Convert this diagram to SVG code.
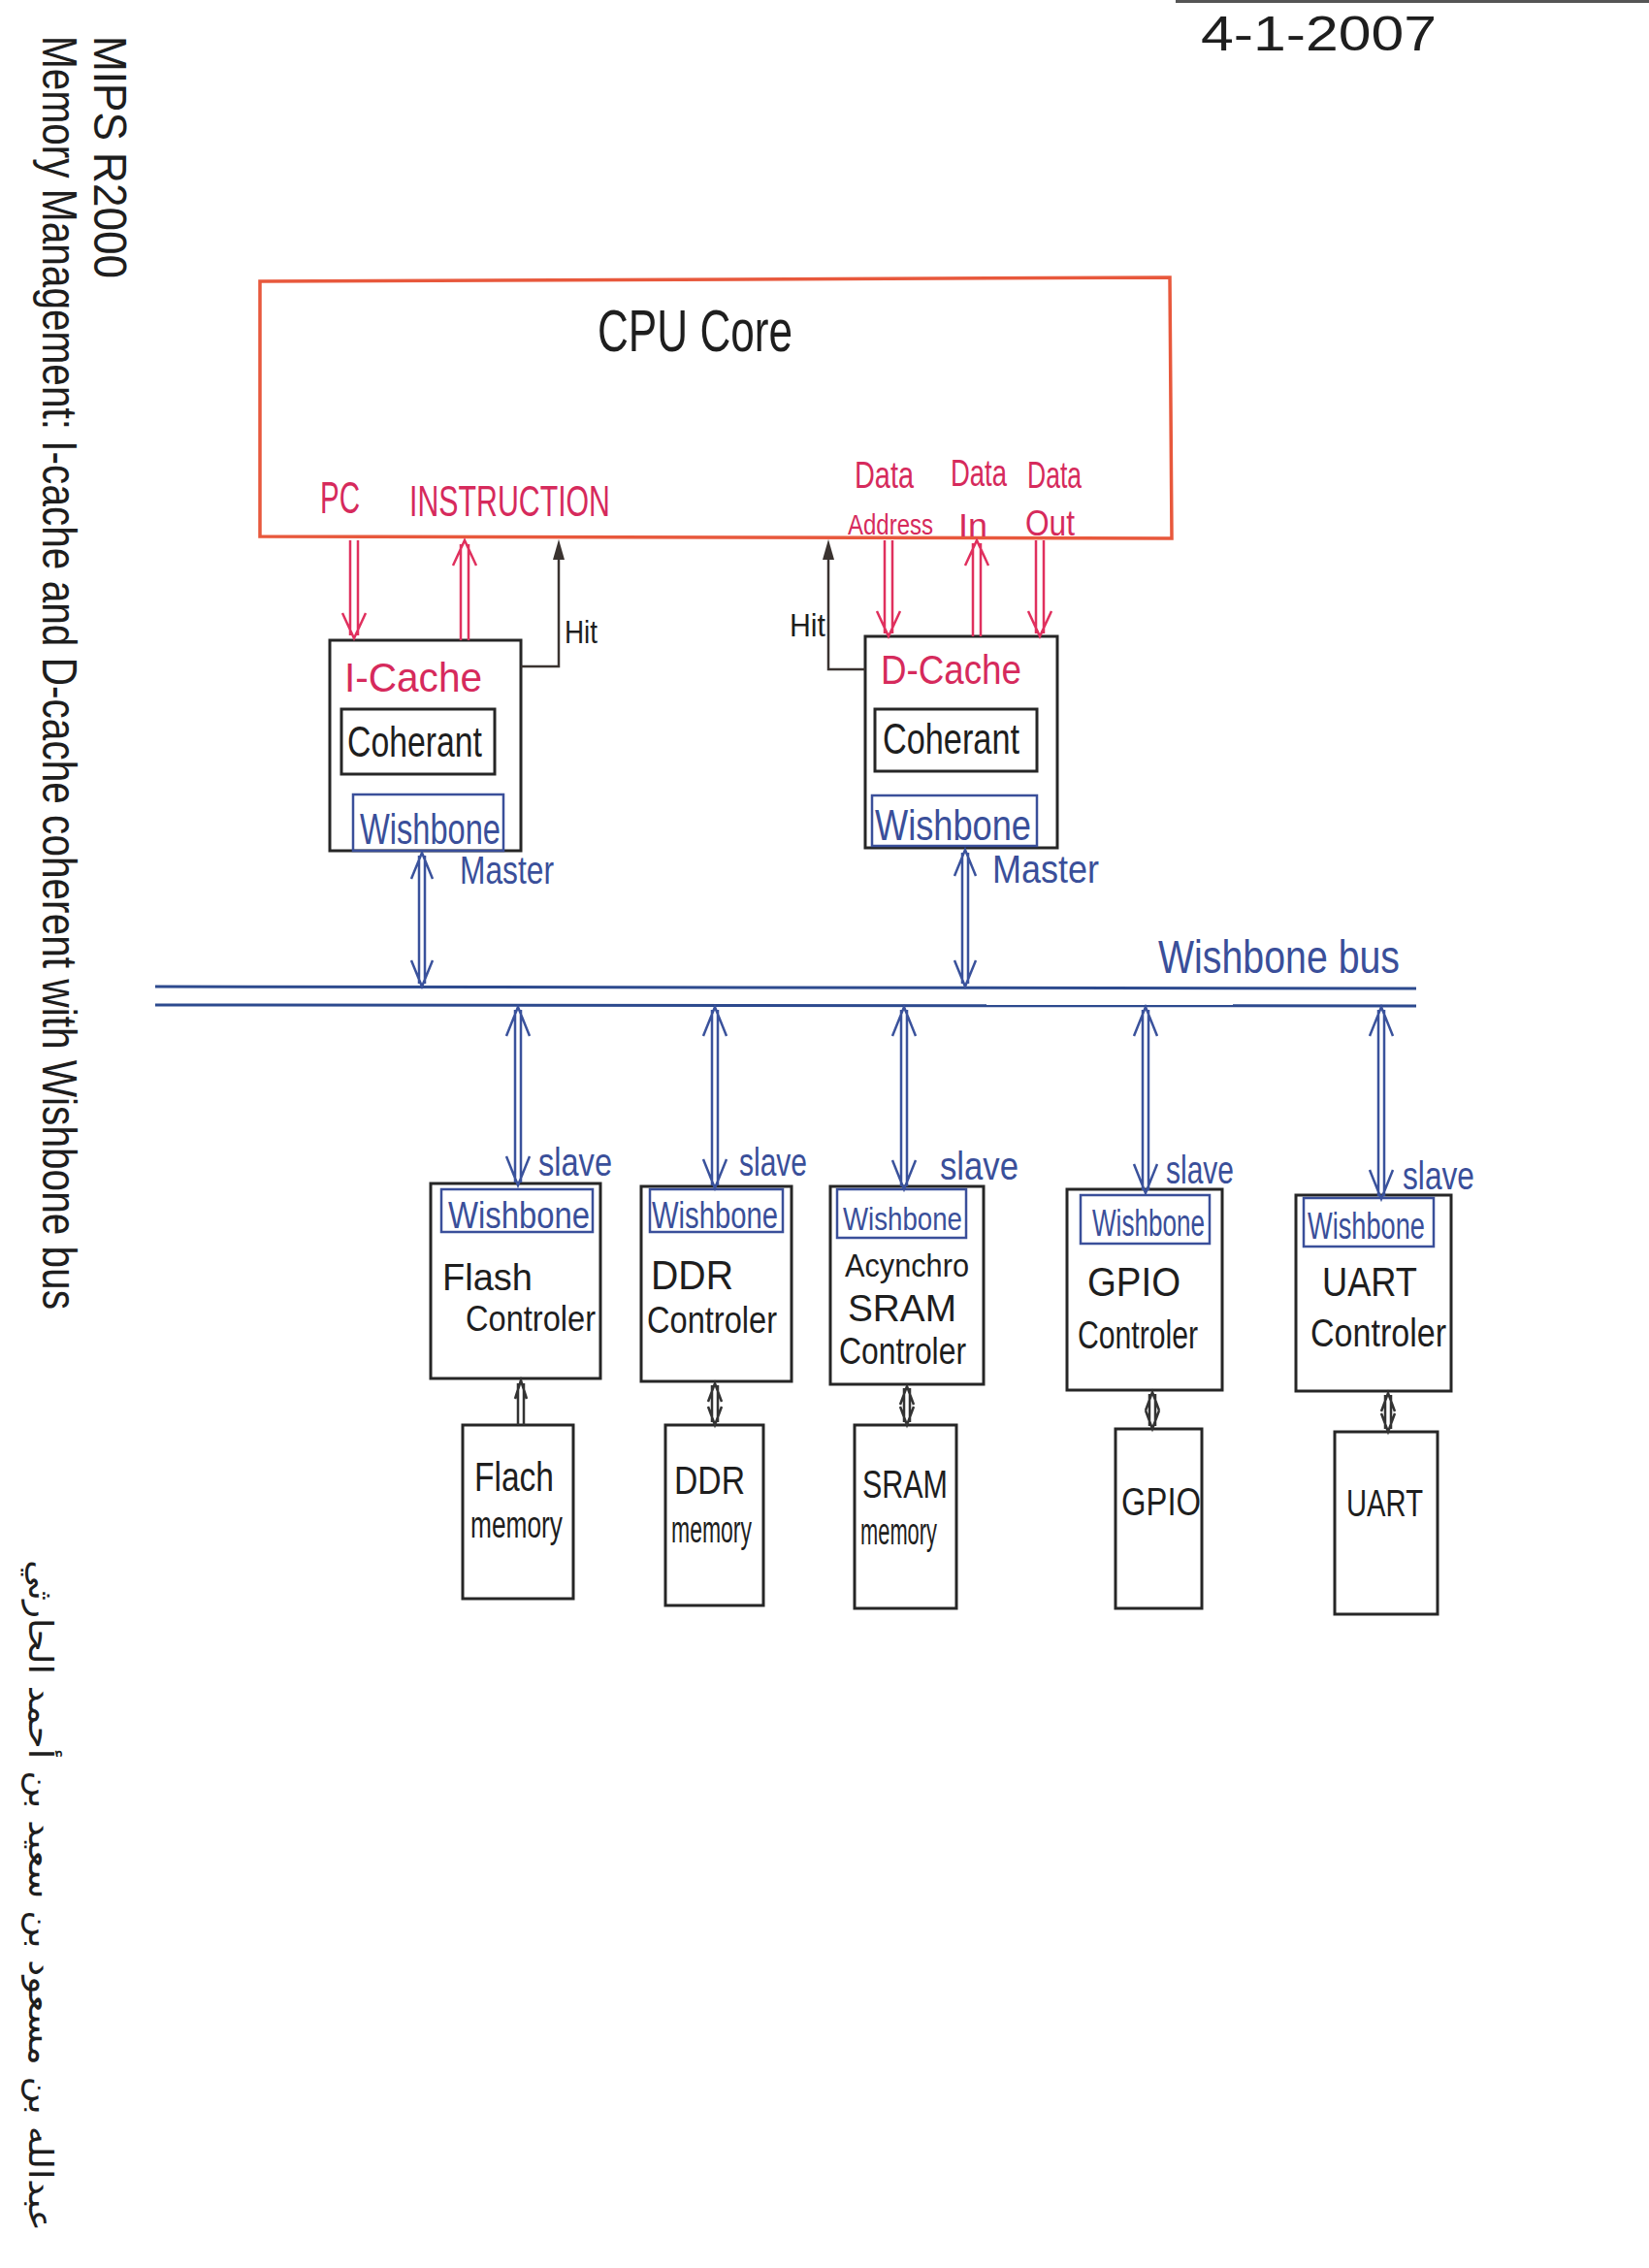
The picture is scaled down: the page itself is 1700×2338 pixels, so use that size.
<svg xmlns="http://www.w3.org/2000/svg" width="1700" height="2338" viewBox="0 0 1700 2338">
<style>
text{font-family:"Liberation Sans","DejaVu Sans",sans-serif}
.box{fill:none;stroke:#262626;stroke-width:3}
.cpu{fill:none;stroke:#e8583c;stroke-width:3.5}
.wb{fill:none;stroke:#3a4f9a;stroke-width:2.5}
.tr{fill:#d62a5c}
.tb{fill:#3a4f9a}
.tk{fill:#1e1e1e}
.ar{fill:none;stroke:#e0305e;stroke-width:2.5}
.ab{fill:none;stroke:#3a529c;stroke-width:2.5}
.ak{fill:none;stroke:#333;stroke-width:2.5}
.hit{fill:none;stroke:#3a3330;stroke-width:2.5}
.bus{stroke:#2d4a8e;stroke-width:3}
</style>
<rect width="1700" height="2338" fill="#ffffff"/>
<line x1="1212" y1="1.5" x2="1700" y2="1.5" stroke="#555" stroke-width="3"/>

<g id="title">
<text class="tk" transform="translate(97,37) rotate(90)" font-size="48" textLength="250" lengthAdjust="spacingAndGlyphs">MIPS R2000</text>
<text class="tk" transform="translate(44,37) rotate(90)" font-size="50" textLength="1313" lengthAdjust="spacingAndGlyphs">Memory Management: I-cache and D-cache coherent with Wishbone bus</text>
<text class="tk" transform="translate(1238,52)" font-size="50" textLength="243" lengthAdjust="spacingAndGlyphs">4-1-2007</text>
<text class="tk" transform="translate(30,1608) rotate(90)" font-size="34" textLength="692" lengthAdjust="spacingAndGlyphs" style="font-family:'DejaVu Sans','Noto Sans',sans-serif">عبدالله بن مسعود بن سعيد بن أحمد الحارثي</text>
</g>

<g id="cpu-core">
<path class="cpu" d="M268,290 L1206,286 L1208,555 L268,553 Z"/>
<text class="tk" x="616" y="362" font-size="62" textLength="201" lengthAdjust="spacingAndGlyphs">CPU Core</text>
<text class="tr" x="330" y="529" font-size="46" textLength="41" lengthAdjust="spacingAndGlyphs">PC</text>
<text class="tr" x="422" y="532" font-size="45" textLength="207" lengthAdjust="spacingAndGlyphs">INSTRUCTION</text>
<text class="tr" x="881" y="503" font-size="38" textLength="61" lengthAdjust="spacingAndGlyphs">Data</text>
<text class="tr" x="874" y="551" font-size="30" textLength="88" lengthAdjust="spacingAndGlyphs">Address</text>
<text class="tr" x="980" y="501" font-size="38" textLength="58" lengthAdjust="spacingAndGlyphs">Data</text>
<text class="tr" x="988" y="553" font-size="34" textLength="30" lengthAdjust="spacingAndGlyphs">In</text>
<text class="tr" x="1059" y="503" font-size="38" textLength="56" lengthAdjust="spacingAndGlyphs">Data</text>
<text class="tr" x="1057" y="552" font-size="36" textLength="51" lengthAdjust="spacingAndGlyphs">Out</text>
</g>

<g id="i-cache">
<rect class="box" x="340" y="660" width="197" height="217"/>
<text class="tr" x="355" y="713" font-size="42" textLength="142" lengthAdjust="spacingAndGlyphs">I-Cache</text>
<rect class="box" x="352" y="731" width="158" height="67"/>
<text class="tk" x="358" y="780" font-size="44" textLength="139" lengthAdjust="spacingAndGlyphs">Coherant</text>
<rect class="wb" x="364" y="819" width="155" height="58"/>
<text class="tb" x="371" y="870" font-size="44" textLength="145" lengthAdjust="spacingAndGlyphs">Wishbone</text>
</g>

<g id="d-cache">
<rect class="box" x="892" y="656" width="198" height="218"/>
<text class="tr" x="908" y="705" font-size="42" textLength="145" lengthAdjust="spacingAndGlyphs">D-Cache</text>
<rect class="box" x="902" y="731" width="167" height="64"/>
<text class="tk" x="910" y="777" font-size="44" textLength="141" lengthAdjust="spacingAndGlyphs">Coherant</text>
<rect class="wb" x="899" y="820" width="170" height="52"/>
<text class="tb" x="902" y="866" font-size="44" textLength="161" lengthAdjust="spacingAndGlyphs">Wishbone</text>
</g>

<g id="wishbone-bus">
<line class="bus" x1="160" y1="1017" x2="1460" y2="1019"/>
<line class="bus" x1="160" y1="1036" x2="1460" y2="1037"/>
<text class="tb" x="1194" y="1003" font-size="48" textLength="249" lengthAdjust="spacingAndGlyphs">Wishbone bus</text>
</g>

<g id="flash-controller">
<rect class="box" x="444" y="1220" width="175" height="201"/>
<rect class="wb" x="455" y="1226" width="156" height="44"/>
<text class="tb" x="462" y="1266" font-size="38" textLength="146" lengthAdjust="spacingAndGlyphs">Wishbone</text>
<text class="tk" x="456" y="1330" font-size="38" textLength="93" lengthAdjust="spacingAndGlyphs">Flash</text>
<text class="tk" x="480" y="1372" font-size="36" textLength="134" lengthAdjust="spacingAndGlyphs">Controler</text>
</g>
<g id="ddr-controller">
<rect class="box" x="661" y="1223" width="155" height="201"/>
<rect class="wb" x="670" y="1226" width="137" height="44"/>
<text class="tb" x="672" y="1266" font-size="38" textLength="130" lengthAdjust="spacingAndGlyphs">Wishbone</text>
<text class="tk" x="671" y="1329" font-size="42" textLength="85" lengthAdjust="spacingAndGlyphs">DDR</text>
<text class="tk" x="667" y="1374" font-size="38" textLength="134" lengthAdjust="spacingAndGlyphs">Controler</text>
</g>
<g id="sram-controller">
<rect class="box" x="856" y="1223" width="158" height="204"/>
<rect class="wb" x="863" y="1226" width="133" height="50"/>
<text class="tb" x="869" y="1268" font-size="34" textLength="123" lengthAdjust="spacingAndGlyphs">Wishbone</text>
<text class="tk" x="871" y="1316" font-size="34" textLength="128" lengthAdjust="spacingAndGlyphs">Acynchro</text>
<text class="tk" x="874" y="1362" font-size="38" textLength="112" lengthAdjust="spacingAndGlyphs">SRAM</text>
<text class="tk" x="865" y="1406" font-size="38" textLength="131" lengthAdjust="spacingAndGlyphs">Controler</text>
</g>
<g id="gpio-controller">
<rect class="box" x="1100" y="1226" width="160" height="207"/>
<rect class="wb" x="1114" y="1232" width="133" height="50"/>
<text class="tb" x="1126" y="1274" font-size="38" textLength="116" lengthAdjust="spacingAndGlyphs">Wishbone</text>
<text class="tk" x="1121" y="1336" font-size="42" textLength="96" lengthAdjust="spacingAndGlyphs">GPIO</text>
<text class="tk" x="1111" y="1390" font-size="40" textLength="124" lengthAdjust="spacingAndGlyphs">Controler</text>
</g>
<g id="uart-controller">
<rect class="box" x="1336" y="1232" width="160" height="202"/>
<rect class="wb" x="1344" y="1235" width="134" height="50"/>
<text class="tb" x="1348" y="1277" font-size="38" textLength="121" lengthAdjust="spacingAndGlyphs">Wishbone</text>
<text class="tk" x="1363" y="1336" font-size="42" textLength="98" lengthAdjust="spacingAndGlyphs">UART</text>
<text class="tk" x="1351" y="1388" font-size="40" textLength="140" lengthAdjust="spacingAndGlyphs">Controler</text>
</g>

<g id="flash-memory">
<rect class="box" x="477" y="1469" width="114" height="179"/>
<text class="tk" x="489" y="1537" font-size="42" textLength="82" lengthAdjust="spacingAndGlyphs">Flach</text>
<text class="tk" x="485" y="1585" font-size="38" textLength="95" lengthAdjust="spacingAndGlyphs">memory</text>
</g>
<g id="ddr-memory">
<rect class="box" x="686" y="1469" width="101" height="186"/>
<text class="tk" x="695" y="1540" font-size="40" textLength="73" lengthAdjust="spacingAndGlyphs">DDR</text>
<text class="tk" x="692" y="1590" font-size="38" textLength="83" lengthAdjust="spacingAndGlyphs">memory</text>
</g>
<g id="sram-memory">
<rect class="box" x="881" y="1469" width="105" height="189"/>
<text class="tk" x="889" y="1544" font-size="40" textLength="88" lengthAdjust="spacingAndGlyphs">SRAM</text>
<text class="tk" x="887" y="1592" font-size="38" textLength="79" lengthAdjust="spacingAndGlyphs">memory</text>
</g>
<g id="gpio">
<rect class="box" x="1150" y="1473" width="89" height="185"/>
<text class="tk" x="1156" y="1562" font-size="40" textLength="82" lengthAdjust="spacingAndGlyphs">GPIO</text>
</g>
<g id="uart">
<rect class="box" x="1376" y="1476" width="106" height="188"/>
<text class="tk" x="1388" y="1563" font-size="38" textLength="79" lengthAdjust="spacingAndGlyphs">UART</text>
</g>

<g id="connectors">
<path class="ar" d="M361,557 V655 M369,557 V655 M353,632 L365,658 L377,632"/>
<path class="ar" d="M475,561 V660 M483,561 V660 M467,583 L479,557 L491,583"/>
<path class="ar" d="M912,557 V653 M920,557 V653 M904,630 L916,656 L928,630"/>
<path class="ar" d="M1003,560 V656 M1011,560 V656 M995,583 L1007,557 L1019,583"/>
<path class="ar" d="M1068,557 V653 M1076,557 V653 M1060,630 L1072,656 L1084,630"/>
<path class="hit" d="M537,687 H576 V570"/>
<polygon points="570,577 576,556 582,577" fill="#3a3330"/>
<text class="tk" x="582" y="663" font-size="34" textLength="34" lengthAdjust="spacingAndGlyphs">Hit</text>
<path class="hit" d="M892,690 H854 V570"/>
<polygon points="848,577 854,556 860,577" fill="#3a3330"/>
<text class="tk" x="814" y="656" font-size="34" textLength="37" lengthAdjust="spacingAndGlyphs">Hit</text>
<path class="ab" d="M432,882 V1014 M438,882 V1014 M424,906 L435,879 L446,906 M424,990 L435,1017 L446,990"/>
<text class="tb" x="474" y="911" font-size="40" textLength="97" lengthAdjust="spacingAndGlyphs">Master</text>
<path class="ab" d="M992,879 V1014 M998,879 V1014 M984,903 L995,876 L1006,903 M984,990 L995,1017 L1006,990"/>
<text class="tb" x="1023" y="910" font-size="40" textLength="110" lengthAdjust="spacingAndGlyphs">Master</text>
<path class="ab" d="M531,1041 V1219 M537,1041 V1219 M522,1068 L534,1038 L546,1068 M522,1192 L534,1222 L546,1192"/>
<text class="tb" x="555" y="1212" font-size="40" textLength="76" lengthAdjust="spacingAndGlyphs">slave</text>
<path class="ab" d="M734,1041 V1222 M740,1041 V1222 M725,1068 L737,1038 L749,1068 M725,1195 L737,1225 L749,1195"/>
<text class="tb" x="762" y="1212" font-size="40" textLength="70" lengthAdjust="spacingAndGlyphs">slave</text>
<path class="ab" d="M929,1041 V1223 M935,1041 V1223 M920,1068 L932,1038 L944,1068 M920,1196 L932,1226 L944,1196"/>
<text class="tb" x="969" y="1216" font-size="40" textLength="81" lengthAdjust="spacingAndGlyphs">slave</text>
<path class="ab" d="M1178,1041 V1227 M1184,1041 V1227 M1169,1068 L1181,1038 L1193,1068 M1169,1200 L1181,1230 L1193,1200"/>
<text class="tb" x="1202" y="1220" font-size="40" textLength="70" lengthAdjust="spacingAndGlyphs">slave</text>
<path class="ab" d="M1421,1041 V1233 M1427,1041 V1233 M1412,1068 L1424,1038 L1436,1068 M1412,1206 L1424,1236 L1436,1206"/>
<text class="tb" x="1446" y="1226" font-size="40" textLength="74" lengthAdjust="spacingAndGlyphs">slave</text>
<path class="ak" d="M534,1426 V1469 M540,1426 V1469 M531,1442 L537,1423 L543,1442"/>
<path class="ak" d="M734,1428 V1466 M740,1428 V1466 M730,1445 L737,1426 L744,1445 M730,1450 L737,1469 L744,1450"/>
<path class="ak" d="M932,1431 V1466 M938,1431 V1466 M928,1448 L935,1429 L942,1448 M928,1450 L935,1469 L942,1450"/>
<path class="ak" d="M1185,1437 V1470 M1191,1437 V1470 M1181,1454 L1188,1435 L1195,1454 M1181,1454 L1188,1473 L1195,1454"/>
<path class="ak" d="M1428,1438 V1473 M1434,1438 V1473 M1424,1455 L1431,1436 L1438,1455 M1424,1457 L1431,1476 L1438,1457"/>
</g>
</svg>
